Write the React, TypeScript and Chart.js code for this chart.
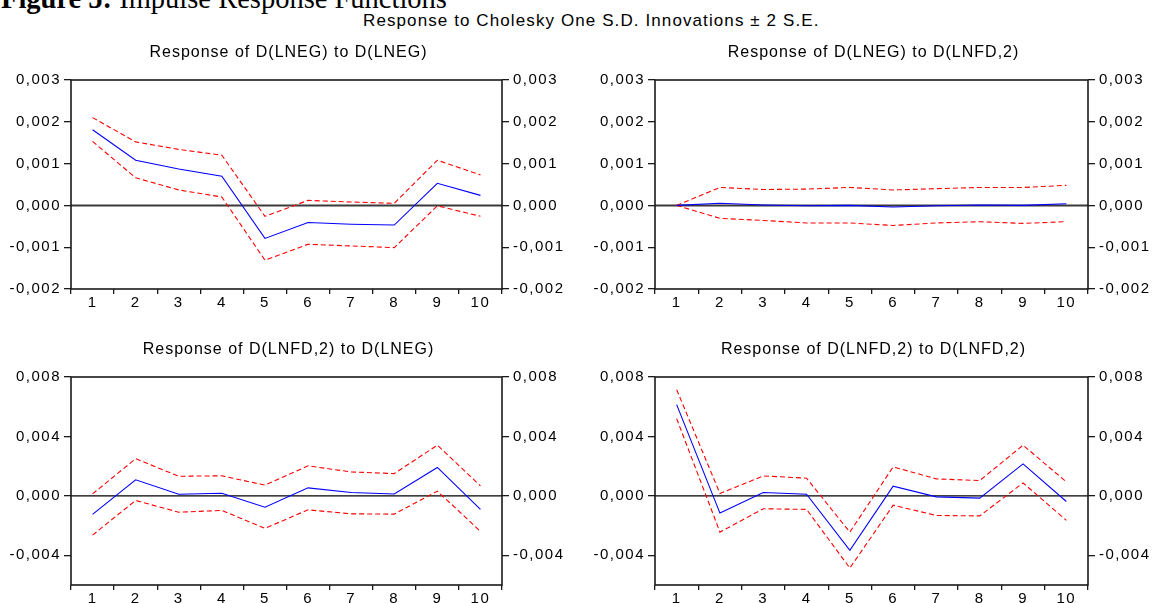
import React, { useEffect, useRef } from "react";
import { Chart, registerables } from "chart.js";

Chart.register(...registerables);

// ---- data ----
const STEPS = ["1", "2", "3", "4", "5", "6", "7", "8", "9", "10"];
const TOP_TICKS = [-0.002, -0.001, 0, 0.001, 0.002, 0.003];
const BOTTOM_TICKS = [-0.004, 0, 0.004, 0.008];

const MAIN_TITLE = "Response to Cholesky One S.D. Innovations \u00b1 2 S.E.";
const FIG_BOLD = "Figure 5:";
const FIG_TEXT = " Impulse Response Functions";

const TITLE_EG_EG = "Response of D(LNEG) to D(LNEG)";
const TITLE_EG_FD = "Response of D(LNEG) to D(LNFD,2)";
const TITLE_FD_EG = "Response of D(LNFD,2) to D(LNEG)";
const TITLE_FD_FD = "Response of D(LNFD,2) to D(LNFD,2)";

const EG_EG = [0.00181, 0.00108, 0.00087, 0.0007, -0.00079, -0.00041, -0.00045, -0.00047, 0.00053, 0.00024];
const EG_EG_UP = [0.0021, 0.00152, 0.00134, 0.0012, -0.00026, 0.00012, 0.00008, 0.00005, 0.00108, 0.00073];
const EG_EG_LO = [0.00153, 0.00066, 0.00037, 0.0002, -0.00131, -0.00093, -0.00097, -0.00101, -0.00001, -0.00026];

const EG_FD = [0, 0.00005, 0.00001, -0.00001, 0, -0.00004, -0.00001, 0.00001, 0, 0.00004];
const EG_FD_UP = [0, 0.00043, 0.00038, 0.00039, 0.00043, 0.00037, 0.0004, 0.00043, 0.00043, 0.00048];
const EG_FD_LO = [0, -0.00031, -0.00036, -0.00042, -0.00042, -0.00048, -0.00042, -0.00039, -0.00043, -0.00039];

const FD_EG = [-0.00125, 0.00108, 0.00011, 0.00018, -0.00076, 0.00054, 0.00023, 0.00013, 0.00191, -0.00091];
const FD_EG_UP = [0.00013, 0.0025, 0.00132, 0.00135, 0.00072, 0.00202, 0.00161, 0.0015, 0.00341, 0.00067];
const FD_EG_LO = [-0.00264, -0.00031, -0.0011, -0.00098, -0.00219, -0.00094, -0.00121, -0.00123, 0.00032, -0.00239];

const FD_FD = [0.00614, -0.00116, 0.00023, 0.00011, -0.00367, 0.00065, -0.00007, -0.00015, 0.00215, -0.00038];
const FD_FD_UP = [0.00715, 0.00016, 0.00134, 0.00119, -0.00244, 0.00195, 0.00114, 0.00103, 0.00341, 0.00094];
const FD_FD_LO = [0.0052, -0.00244, -0.00087, -0.00091, -0.00486, -0.00063, -0.00132, -0.00135, 0.00087, -0.00165];

// ---- styling ----
const SANS = '"Liberation Sans", Arial, Helvetica, sans-serif';
const SERIF = '"Liberation Serif", "Times New Roman", serif';

type PanelCfg = {
  x: number; y: number; w: number; h: number;
  leftW: number; rightW: number; topPad: number; xH: number;
  min: number; max: number; ticks: number[];
  title: string; resp: number[]; up: number[]; lo: number[];
  zeroColor: string; zeroWidth: number;
};

const PANELS: PanelCfg[] = [
  { x: 0, y: 30, w: 576, h: 280, leftW: 71, rightW: 74, topPad: 50, xH: 21, min: -0.002, max: 0.003, ticks: TOP_TICKS,
    title: TITLE_EG_EG, resp: EG_EG, up: EG_EG_UP, lo: EG_EG_LO, zeroColor: "#3a3a3a", zeroWidth: 2 },
  { x: 576, y: 30, w: 576, h: 280, leftW: 79, rightW: 64, topPad: 50, xH: 21, min: -0.002, max: 0.003, ticks: TOP_TICKS,
    title: TITLE_EG_FD, resp: EG_FD, up: EG_FD_UP, lo: EG_FD_LO, zeroColor: "#3a3a3a", zeroWidth: 2 },
  { x: 0, y: 325, w: 576, h: 278, leftW: 71, rightW: 74, topPad: 52, xH: 18, min: -0.006, max: 0.008, ticks: BOTTOM_TICKS,
    title: TITLE_FD_EG, resp: FD_EG, up: FD_EG_UP, lo: FD_EG_LO, zeroColor: "#000", zeroWidth: 1.3 },
  { x: 576, y: 325, w: 576, h: 278, leftW: 79, rightW: 64, topPad: 52, xH: 18, min: -0.006, max: 0.008, ticks: BOTTOM_TICKS,
    title: TITLE_FD_FD, resp: FD_FD, up: FD_FD_UP, lo: FD_FD_LO, zeroColor: "#000", zeroWidth: 1.3 },
];

const fmt = (v: number) => (Math.abs(v) < 1e-12 ? 0 : v).toFixed(3).replace(".", ",");

const decorPlugin = {
  id: "decor",
  beforeDraw(chart: any) {
    (chart.ctx as any).letterSpacing = "1.5px";
  },
  beforeDatasetsDraw(chart: any, _args: any, opts: any) {
    const { ctx, chartArea: a, scales } = chart;
    const y0 = scales.y.getPixelForValue(0);
    ctx.save();
    ctx.strokeStyle = opts.zeroColor;
    ctx.lineWidth = opts.zeroWidth;
    ctx.beginPath();
    ctx.moveTo(a.left, y0);
    ctx.lineTo(a.right, y0);
    ctx.stroke();
    ctx.restore();
  },
  afterDraw(chart: any, _args: any, opts: any) {
    const { ctx, chartArea: a } = chart;
    ctx.save();
    ctx.strokeStyle = "#1a1a1a";
    ctx.lineWidth = 1.6;
    ctx.strokeRect(a.left, a.top, a.right - a.left, a.bottom - a.top);
    (ctx as any).letterSpacing = "1px";
    ctx.font = `16px ${SANS}`;
    ctx.fillStyle = "#000";
    ctx.textAlign = "center";
    ctx.textBaseline = "alphabetic";
    ctx.fillText(opts.title, (a.left + a.right) / 2 + 2, a.top - 23);
    ctx.restore();
  },
};

function Panel({ cfg }: { cfg: PanelCfg }) {
  const ref = useRef<HTMLCanvasElement>(null);
  useEffect(() => {
    const yCommon = (pos: "left" | "right", w: number) => ({
      type: "linear" as const,
      position: pos,
      min: cfg.min,
      max: cfg.max,
      afterBuildTicks: (s: any) => {
        s.ticks = cfg.ticks.map((v) => ({ value: v }));
      },
      afterFit: (s: any) => {
        s.width = w;
      },
      grid: { drawOnChartArea: false, drawTicks: true, tickLength: 7, color: "#1a1a1a", lineWidth: 1.3 },
      border: { display: false },
      ticks: {
        font: { family: SANS, size: 15 },
        color: "#000",
        padding: pos === "left" ? 3 : 4,
        autoSkip: false,
        callback: (v: any) => fmt(Number(v)),
      },
    });
    const chart = new Chart(ref.current!, {
      type: "line",
      data: {
        labels: STEPS,
        datasets: [
          { data: cfg.resp, borderColor: "#0000ff", borderWidth: 1.1, pointRadius: 0, tension: 0, fill: false },
          { data: cfg.up, borderColor: "#ff0000", borderWidth: 1.1, borderDash: [5, 3], pointRadius: 0, tension: 0, fill: false },
          { data: cfg.lo, borderColor: "#ff0000", borderWidth: 1.1, borderDash: [5, 3], pointRadius: 0, tension: 0, fill: false },
        ],
      },
      options: {
        responsive: false,
        animation: false,
        events: [],
        layout: { padding: { left: 0, right: 0, top: cfg.topPad, bottom: 0 } },
        plugins: {
          legend: { display: false },
          tooltip: { enabled: false },
          title: { display: false },
          decor: { title: cfg.title, zeroColor: cfg.zeroColor, zeroWidth: cfg.zeroWidth },
        } as any,
        scales: {
          x: {
            type: "category",
            offset: true,
            afterFit: (s: any) => {
              s.height = cfg.xH;
            },
            grid: { offset: true, drawOnChartArea: false, drawTicks: true, tickLength: 5, color: "#1a1a1a", lineWidth: 1.3 },
            border: { display: false },
            ticks: { font: { family: SANS, size: 15 }, color: "#000", padding: 0, maxRotation: 0, autoSkip: false },
          },
          y: yCommon("left", cfg.leftW),
          y2: yCommon("right", cfg.rightW),
        },
      } as any,
      plugins: [decorPlugin],
    });
    return () => chart.destroy();
  }, [cfg]);
  return (
    <canvas
      ref={ref}
      width={cfg.w}
      height={cfg.h}
      style={{ position: "absolute", left: cfg.x, top: cfg.y, width: cfg.w, height: cfg.h }}
    />
  );
}

export default function App() {
  return (
    <div
      style={{
        position: "absolute",
        left: 0,
        top: 0,
        width: 1152,
        height: 603,
        overflow: "hidden",
        background: "#fff",
      }}
    >
      <div
        style={{
          position: "absolute",
          left: 1,
          top: -15.5,
          fontFamily: SERIF,
          fontSize: 28.5,
          lineHeight: "28px",
          whiteSpace: "nowrap",
          color: "#000",
        }}
      >
        <b>{FIG_BOLD}</b>
        {FIG_TEXT}
      </div>
      <div
        style={{
          position: "absolute",
          left: 363,
          top: 12,
          fontFamily: SANS,
          fontSize: 17,
          lineHeight: "17px",
          letterSpacing: "1.1px",
          whiteSpace: "nowrap",
          color: "#000",
        }}
      >
        {MAIN_TITLE}
      </div>
      {PANELS.map((p, i) => (
        <Panel key={i} cfg={p} />
      ))}
    </div>
  );
}
